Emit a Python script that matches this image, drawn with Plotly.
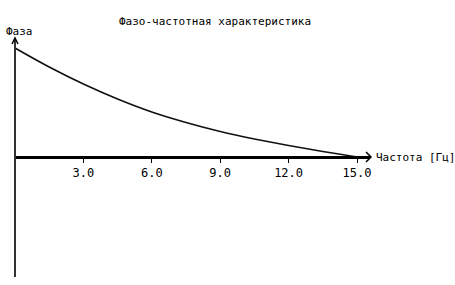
import plotly.graph_objects as go

# Data
freq = [0, 1.5, 3, 4.5, 6, 7.5, 9, 10.5, 12, 13.5, 15]
phase = [109, 90, 73, 58, 45, 34.5, 25.5, 18, 11.5, 5.5, 0]
tick_vals = [3, 6, 9, 12, 15]
tick_text = ["3.0", "6.0", "9.0", "12.0", "15.0"]

W, H = 455, 285
x0_px, x1_px = 15, 370
base_px = 157
ytop_px, ybot_px = 38, 277
px_per_unit = 22.8

FONT = "DejaVu Sans Mono"

fig = go.Figure()
fig.add_trace(go.Scatter(
    x=freq, y=phase, mode="lines",
    line=dict(color="#111111", width=1.6, shape="spline"),
    hoverinfo="skip", showlegend=False,
))

def px(xp):
    return xp / W

def py(yp):
    return 1 - yp / H

fig.update_layout(
    width=W, height=H,
    margin=dict(l=0, r=0, t=0, b=0),
    paper_bgcolor="white", plot_bgcolor="white",
    showlegend=False,
    xaxis=dict(
        domain=[px(x0_px), px(x1_px)],
        range=[0, (x1_px - x0_px) / px_per_unit],
        anchor="free", position=py(base_px),
        showline=True, linecolor="black", linewidth=3,
        showgrid=False, zeroline=False,
        ticks="outside", ticklen=4, tickwidth=1, tickcolor="black",
        tickvals=tick_vals, ticktext=tick_text,
        tickfont=dict(family=FONT, size=12, color="black"),
        fixedrange=True,
    ),
    yaxis=dict(
        domain=[py(ybot_px), py(ytop_px)],
        range=[-(ybot_px - base_px), base_px - ytop_px],
        anchor="free", position=px(x0_px),
        showline=True, linecolor="#333333", linewidth=2,
        showgrid=False, zeroline=False, showticklabels=False, ticks="",
        fixedrange=True,
    ),
)

# Axis arrowheads
fig.add_shape(type="path", xref="paper", yref="paper",
              path=f"M {px(366)} {py(152)} L {px(371)} {py(157)} L {px(366)} {py(162)}",
              line=dict(color="black", width=1.5))
fig.add_shape(type="path", xref="paper", yref="paper",
              path=f"M {px(12)} {py(44)} L {px(15)} {py(38)} L {px(18)} {py(44)}",
              line=dict(color="black", width=1.5))

# Texts
fig.add_annotation(text="Фазо-частотная характеристика", xref="paper", yref="paper",
                   x=px(215), y=py(21), showarrow=False, xanchor="center", yanchor="middle",
                   font=dict(family=FONT, size=11, color="black"))
fig.add_annotation(text="Фаза", xref="paper", yref="paper",
                   x=px(4), y=py(31), showarrow=False, xanchor="left", yanchor="middle",
                   font=dict(family=FONT, size=11, color="black"))
fig.add_annotation(text="Частота [Гц]", xref="paper", yref="paper",
                   x=px(374), y=py(158), showarrow=False, xanchor="left", yanchor="middle",
                   font=dict(family=FONT, size=11, color="black"))

fig.write_html("out.html")
